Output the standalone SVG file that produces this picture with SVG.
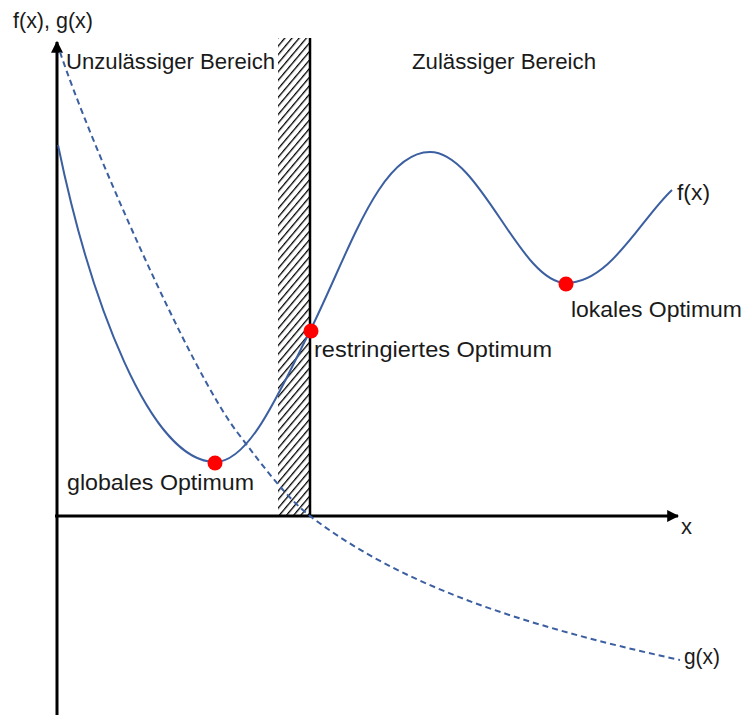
<svg xmlns="http://www.w3.org/2000/svg" width="745" height="715" viewBox="0 0 745 715">
<style>
text{font-family:"Liberation Sans",Arial,sans-serif;font-size:22px;fill:#1a1a1a}
.axis{stroke:#000;stroke-width:3;fill:none}
.f{stroke:#3B5FA0;stroke-width:2;fill:none}
.g{stroke:#3B5FA0;stroke-width:2;fill:none;stroke-dasharray:6 4}
.opt{fill:#FF0000}
</style>
<defs>
<pattern id="hatch" patternUnits="userSpaceOnUse" width="5.5" height="5.5" patternTransform="rotate(40)">
<line x1="0" y1="0" x2="0" y2="5.5" stroke="#000" stroke-width="2.6"/>
</pattern>
<marker id="arr" viewBox="0 0 10 10" refX="9" refY="5" markerWidth="4" markerHeight="4" orient="auto">
<path d="M0,0 L10,5 L0,10 z" fill="#000"/>
</marker>
</defs>
<g id="forbidden-zone">
<rect x="278" y="38" width="32" height="478" fill="url(#hatch)"/>
<line x1="310" y1="38" x2="310" y2="517" stroke="#000" stroke-width="2.5"/>
</g>
<g id="connectors">
<line class="axis" x1="57" y1="715" x2="57" y2="42" marker-end="url(#arr)"/>
<line class="axis" x1="55" y1="516" x2="678" y2="516" marker-end="url(#arr)"/>
<path class="f" d="M58,145 C90,300 150,462 215,462 C250,462 280,390 310,331 C350,250 380,152 430,152 C480,152 520,283 566,283 C610,283 640,220 672,190"/>
<path class="g" d="M60,52 C90,142 190,370 237,432 C265,469 288,499 310,516 C400,585 520,625 680,660"/>
</g>
<g id="labels">
<text x="13" y="28" textLength="80" lengthAdjust="spacingAndGlyphs">f(x), g(x)</text>
<text x="66" y="69" textLength="209" lengthAdjust="spacingAndGlyphs">Unzulässiger Bereich</text>
<text x="412" y="69" textLength="184" lengthAdjust="spacingAndGlyphs">Zulässiger Bereich</text>
<text x="677" y="200" textLength="33" lengthAdjust="spacingAndGlyphs">f(x)</text>
<text x="681" y="534">x</text>
<text x="684" y="664" textLength="36" lengthAdjust="spacingAndGlyphs">g(x)</text>
</g>
<g id="global-optimum">
<circle class="opt" cx="215" cy="463" r="7.5"/>
<text x="67" y="490" textLength="187" lengthAdjust="spacingAndGlyphs">globales Optimum</text>
</g>
<g id="restricted-optimum">
<circle class="opt" cx="311" cy="331" r="7.5"/>
<text x="314" y="357" textLength="238" lengthAdjust="spacingAndGlyphs">restringiertes Optimum</text>
</g>
<g id="local-optimum">
<circle class="opt" cx="566" cy="284" r="7.5"/>
<text x="571" y="317" textLength="171" lengthAdjust="spacingAndGlyphs">lokales Optimum</text>
</g>
</svg>
